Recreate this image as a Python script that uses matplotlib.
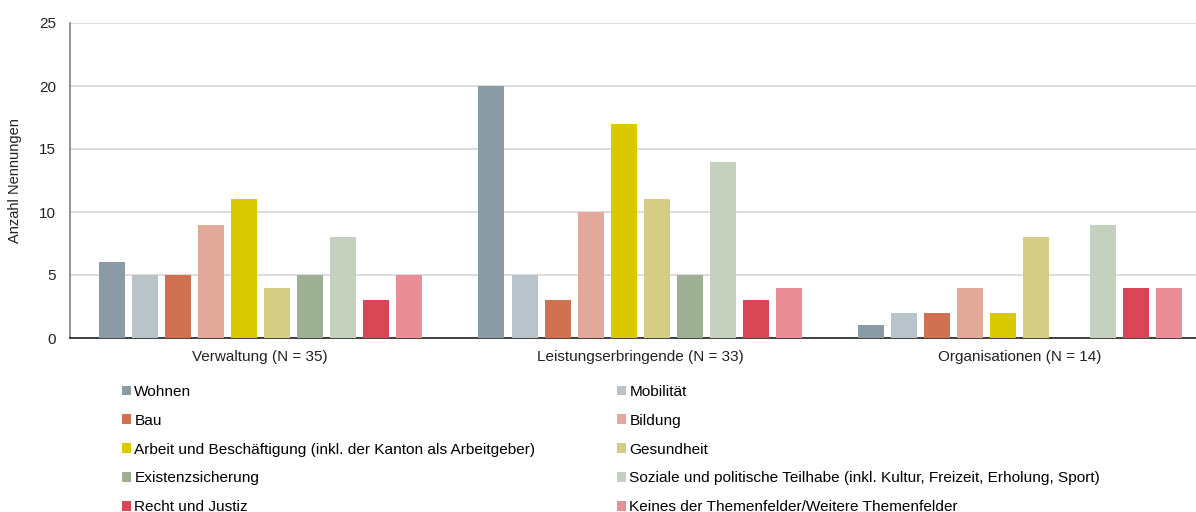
import matplotlib.pyplot as plt
import numpy as np
from matplotlib.patches import Patch

plt.rcParams["font.family"] = ["Liberation Sans", "DejaVu Sans"]
plt.rcParams["font.size"] = 11

gruppen = ["Verwaltung (N = 35)", "Leistungserbringende (N = 33)", "Organisationen (N = 14)"]
themen = [
    "Wohnen",
    "Mobilität",
    "Bau",
    "Bildung",
    "Arbeit und Beschäftigung (inkl. der Kanton als Arbeitgeber)",
    "Gesundheit",
    "Existenzsicherung",
    "Soziale und politische Teilhabe (inkl. Kultur, Freizeit, Erholung, Sport)",
    "Recht und Justiz",
    "Keines der Themenfelder/Weitere Themenfelder",
]
farben = [
    "#8a9ba5", "#b8c4ca", "#d07154", "#e2a899", "#d8c900",
    "#d6cd85", "#9db093", "#c5d0be", "#d94756", "#e98e96",
]

# Nennungen je Thema, pro Gruppe
verwaltung = [6, 5, 5, 9, 11, 4, 5, 8, 3, 5]
leistungserbringende = [20, 5, 3, 10, 17, 11, 5, 14, 3, 4]
organisationen = [1, 2, 2, 4, 2, 8, 0, 9, 4, 4]
werte = np.array([verwaltung, leistungserbringende, organisationen])

fig = plt.figure(figsize=(11.96, 5.12), dpi=100)
ax = fig.add_axes([70 / 1196, 1 - 338 / 512, 1 - 70 / 1196, 315 / 512])

x = np.arange(len(gruppen))
schritt = 33 / 380
breite = 26 / 380
for i, thema in enumerate(themen):
    ax.bar(
        x + (i - 4.5) * schritt, werte[:, i], width=breite,
        color=farben[i], edgecolor="none", label=thema, zorder=3,
    )

ax.set_xlim(-0.5, -0.5 + 1126 / 380)
ax.set_ylim(0, 25)
ax.set_yticks([0, 5, 10, 15, 20, 25])
ax.set_xticks(x)
ax.set_xticklabels(gruppen)
ax.tick_params(axis="both", length=0, labelsize=11, colors="#222222")
ax.tick_params(axis="y", pad=10)
ax.tick_params(axis="x", pad=9)
ax.grid(axis="y", color="#dddddd", linewidth=1.4, zorder=0)
ax.set_ylabel("Anzahl Nennungen", fontsize=10.5, labelpad=12, color="#222222")

for s in ["top", "right"]:
    ax.spines[s].set_visible(False)
ax.spines["left"].set_color("#808080")
ax.spines["left"].set_linewidth(1.2)
ax.spines["bottom"].set_color("#222222")
ax.spines["bottom"].set_linewidth(1.2)

# Legende zeilenweise (zwei Spalten)
reihenfolge = [0, 2, 4, 6, 8, 1, 3, 5, 7, 9]
handles = [Patch(facecolor=farben[i], edgecolor="none") for i in reihenfolge]
labels = [themen[i] for i in reihenfolge]
fig.legend(
    handles, labels, ncol=2, loc="upper left", bbox_to_anchor=(122 / 1196, 1 - 385 / 512),
    frameon=False, fontsize=11.1, handlelength=0.6, handleheight=0.6,
    handletextpad=0.2, labelspacing=0.96, columnspacing=5.3, borderaxespad=0, borderpad=0,
)

fig.savefig("out.png", dpi=100)
